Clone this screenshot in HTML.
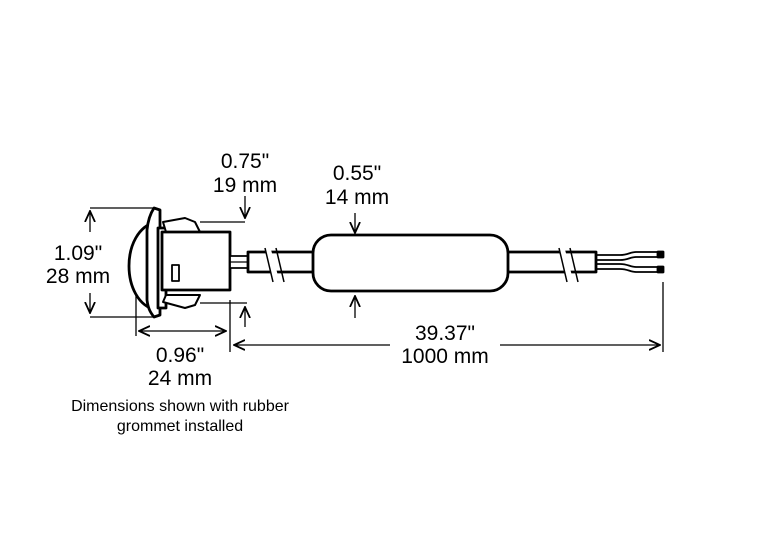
<!DOCTYPE html>
<html><head><meta charset="utf-8"><style>html,body{margin:0;padding:0;background:#fff}svg{display:block}</style></head>
<body>
<svg width="775" height="552" viewBox="0 0 775 552" xmlns="http://www.w3.org/2000/svg" font-family="Liberation Sans, sans-serif">
<defs>
<marker id="a" markerWidth="12" markerHeight="12" refX="11" refY="6" orient="auto" markerUnits="userSpaceOnUse"><path d="M0,1 L11,6 L0,11" fill="none" stroke="#000" stroke-width="1.8"/></marker>
</defs>
<g stroke="#000" fill="none" stroke-width="1.3">
<line x1="90" y1="208" x2="154" y2="208"/>
<line x1="90" y1="317" x2="153" y2="317"/>
<line x1="90" y1="232" x2="90" y2="211" marker-end="url(#a)"/>
<line x1="90" y1="293" x2="90" y2="313" marker-end="url(#a)"/>
<line x1="136" y1="295" x2="136" y2="336"/>
<line x1="230" y1="300" x2="230" y2="352"/>
<line x1="185" y1="331" x2="139" y2="331" marker-end="url(#a)"/>
<line x1="185" y1="331" x2="226" y2="331" marker-end="url(#a)"/>
<line x1="200" y1="222" x2="245" y2="222"/>
<line x1="200" y1="303" x2="247" y2="303"/>
<line x1="245" y1="196" x2="245" y2="218" marker-end="url(#a)"/>
<line x1="245" y1="327" x2="245" y2="307" marker-end="url(#a)"/>
<line x1="355" y1="213" x2="355" y2="233" marker-end="url(#a)"/>
<line x1="355" y1="318" x2="355" y2="296" marker-end="url(#a)"/>
<line x1="663" y1="282" x2="663" y2="352"/>
<line x1="390" y1="345" x2="234" y2="345" marker-end="url(#a)"/>
<line x1="500" y1="345" x2="660" y2="345" marker-end="url(#a)"/>
</g>
<g stroke="#000" stroke-width="2.8" fill="#fff" stroke-linejoin="round">
<path d="M156,222 C120,230 120,302 156,310 Z"/>
<path d="M160,210 L154,208 C150,214 148,220 147,230 L147,300 C148,308 150,312 154,317 L160,315 Z"/>
<rect x="158" y="228" width="8" height="80"/>
<path d="M163,222 L185,218 L195,222 L200,232 L166,232 Z" stroke-width="2"/>
<path d="M163,302 L185,308 L195,305 L200,295 L166,295 Z" stroke-width="2"/>
<rect x="162" y="232" width="68" height="58"/>
<rect x="172" y="265" width="7" height="16" stroke-width="1.8"/>
<rect x="230" y="256" width="18" height="12" stroke-width="1.8"/>
<line x1="230" y1="262" x2="248" y2="262" stroke-width="1.2"/>
<rect x="248" y="252" width="70" height="20"/>
<rect x="500" y="252" width="96" height="20"/>
<rect x="313" y="235" width="195" height="56" rx="18"/>
<path d="M596,255 L620,255 C628,255 630,252 636,252 L663,252 M596,260 L620,260 C628,260 630,257 636,257 L663,257" stroke-width="1.8" fill="none"/>
<path d="M596,264 L620,264 C628,264 630,267 636,267 L663,267 M596,269 L620,269 C628,269 630,272 636,272 L663,272" stroke-width="1.8" fill="none"/>
<rect x="658" y="252" width="5" height="5" fill="#000"/>
<rect x="658" y="267" width="5" height="5" fill="#000"/>
</g>
<g stroke="#fff" stroke-width="6"><line x1="268" y1="250" x2="276" y2="280"/><line x1="562" y1="250" x2="570" y2="280"/></g>
<g stroke="#000" stroke-width="1.5"><line x1="265" y1="248" x2="273" y2="282"/><line x1="276" y1="248" x2="284" y2="282"/><line x1="559" y1="248" x2="567" y2="282"/><line x1="570" y1="248" x2="578" y2="282"/></g>
<g font-size="21" text-anchor="middle" fill="#000">
<text x="78" y="260">1.09"</text><text x="78" y="283">28 mm</text>
<text x="245" y="168">0.75"</text><text x="245" y="192">19 mm</text>
<text x="357" y="180">0.55"</text><text x="357" y="204">14 mm</text>
<text x="180" y="362">0.96"</text><text x="180" y="385">24 mm</text>
<text x="445" y="340">39.37"</text><text x="445" y="363">1000 mm</text>
</g>
<g font-size="16" text-anchor="middle" fill="#000">
<text x="180" y="411">Dimensions shown with rubber</text>
<text x="180" y="431">grommet installed</text>
</g>
</svg>
</body></html>
